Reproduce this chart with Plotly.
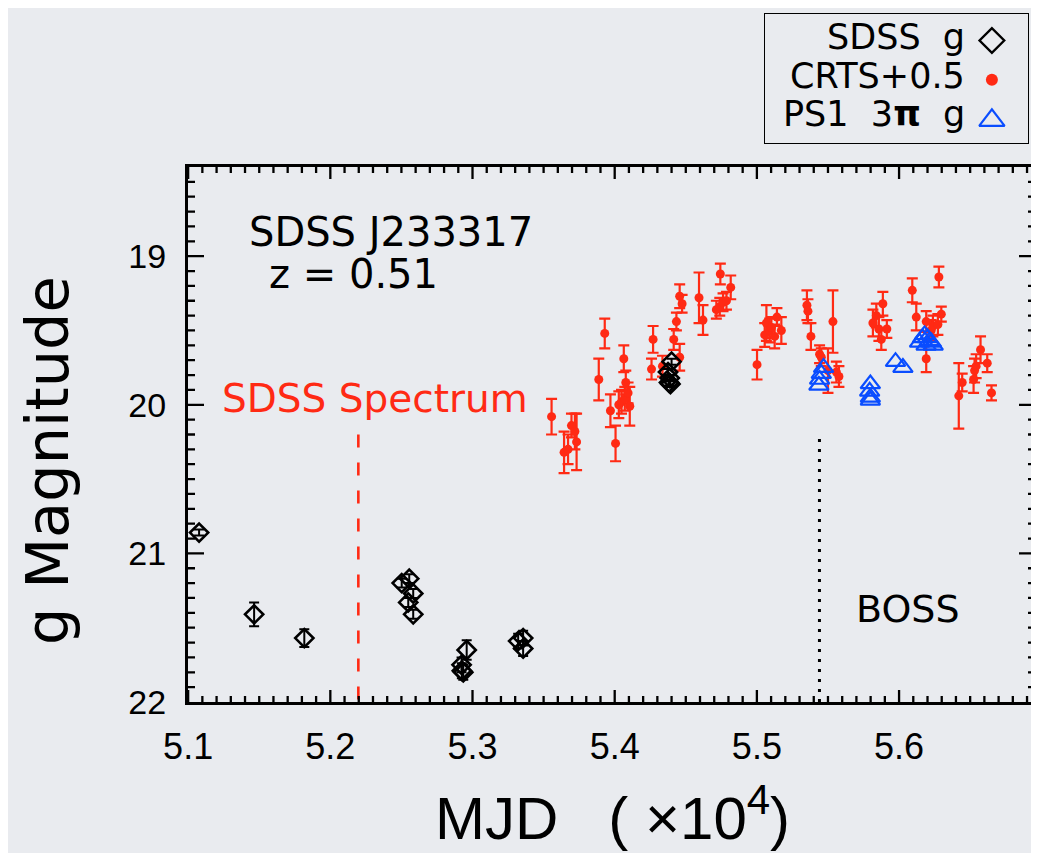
import plotly.graph_objects as go

# ---------------- data (MJD in units of 1e4, g magnitudes) ----------------
sdss_mjd = [5.1077, 5.1464, 5.1817, 5.2502, 5.2555, 5.2583, 5.2548, 5.2583,
            5.2959, 5.2923, 5.2925, 5.2935, 5.3321, 5.3356, 5.3356,
            5.4400, 5.4375, 5.4387, 5.4382, 5.4392]
sdss_mag = [20.86, 21.41, 21.57, 21.20, 21.17, 21.27, 21.33, 21.41,
            21.65, 21.75, 21.79, 21.80, 21.59, 21.57, 21.64,
            19.71, 19.78, 19.82, 19.85, 19.86]
sdss_err = [0.02, 0.08, 0.06, 0.03, 0.03, 0.03, 0.03, 0.03,
            0.065, 0.05, 0.05, 0.05, 0.05, 0.05, 0.05,
            0.02, 0.02, 0.02, 0.02, 0.02]

crts_offset = 0.5
crts_mjd = [5.3556, 5.3644, 5.3672, 5.3696, 5.3732, 5.3720, 5.3888, 5.3930,
            5.3970, 5.4006, 5.4029, 5.4048, 5.4071, 5.4064, 5.4078, 5.4094,
            5.4106, 5.4259, 5.4270, 5.4336, 5.4415, 5.4434, 5.4457, 5.4474,
            5.4457, 5.4593, 5.4621, 5.4715, 5.4739, 5.4743, 5.4762, 5.4786,
            5.4816, 5.5001, 5.5055, 5.5067, 5.5090, 5.5102, 5.5125, 5.5141,
            5.5172, 5.5352, 5.5359, 5.5380, 5.5441, 5.5453, 5.5500, 5.5535,
            5.5559, 5.5577, 5.5816, 5.5840, 5.5858, 5.5875, 5.5886, 5.5914,
            5.6093, 5.6121, 5.6191, 5.6191, 5.6226, 5.6238, 5.6273, 5.6280,
            5.6297, 5.6420, 5.6444, 5.6524, 5.6531, 5.6542, 5.6573, 5.6620,
            5.6650]
crts_mag = [19.58, 19.82, 19.80, 19.64, 19.75, 19.68, 19.33, 19.02,
            19.54, 19.76, 19.50, 19.48, 19.46, 19.19, 19.35, 19.42,
            19.51, 19.26, 19.06, 19.24, 19.06, 18.94, 18.77, 18.82,
            19.18, 18.78, 18.93, 18.86, 18.84, 18.62, 18.81, 18.80,
            18.71, 19.23, 19.03, 18.95, 19.00, 18.98, 19.04, 18.91,
            19.00, 18.83, 18.87, 19.04, 19.16, 19.18, 19.27, 18.94,
            19.28, 19.31, 18.95, 18.90, 18.99, 19.06, 18.82, 18.99,
            18.73, 18.91, 18.94, 19.19, 19.00, 18.97, 18.96, 18.64,
            18.89, 19.44, 19.35, 19.33, 19.27, 19.24, 19.13, 19.22,
            19.42]
crts_err = [0.12, 0.14, 0.10, 0.08, 0.19, 0.12, 0.14, 0.10,
            0.11, 0.12, 0.09, 0.08, 0.08, 0.09, 0.08, 0.07,
            0.13, 0.07, 0.09, 0.07, 0.07, 0.06, 0.08, 0.06,
            0.09, 0.17, 0.10, 0.06, 0.06, 0.07, 0.06, 0.06,
            0.08, 0.10, 0.08, 0.12, 0.08, 0.07, 0.08, 0.06,
            0.09, 0.10, 0.08, 0.09, 0.06, 0.06, 0.15, 0.21,
            0.07, 0.07, 0.09, 0.08, 0.08, 0.07, 0.08, 0.06,
            0.08, 0.09, 0.07, 0.09, 0.07, 0.07, 0.07, 0.07,
            0.05, 0.22, 0.06, 0.09, 0.08, 0.08, 0.09, 0.06,
            0.05]

ps1_mjd = [5.5469, 5.5453, 5.5441, 5.5436,
           5.5798, 5.5793, 5.5798, 5.5798,
           5.5975, 5.6027,
           5.6144, 5.6165, 5.6179, 5.6200, 5.6214, 5.6228, 5.6240, 5.6190]
ps1_mag = [19.75, 19.79, 19.83, 19.87,
           19.86, 19.91, 19.95, 19.97,
           19.71, 19.75,
           19.58, 19.55, 19.53, 19.55, 19.57, 19.58, 19.60, 19.60]

spectrum_mjd = 5.2197
boss_mjd = 5.5440
marker_line_top = [20.20, 20.23]   # where the vertical markers start

x_tick0, x_dtick, x_minor_per_major = 5.1, 0.1, 10
y_tick0, y_dtick, y_minor_per_major = 19, 1, 10
x_range = [5.0999, 5.6956]
y_range = [22.0, 18.4]

# ---------------- layout constants (screen pixels) ----------------
OFF = 8                      # page body margin of the html page
W, H = 1039 - OFF, 853 - OFF
PLOT_L, PLOT_R, PLOT_T, PLOT_B = 188, 1035, 167, 702
BOX_L, BOX_R, BOX_T, BOX_B = 764, 1029, 13, 144
BG = "#e9ebef"
RED = "#ff2a14"
BLUE = "#0a4dff"
TICKFONT = "Liberation Sans"
TEXTFONT = "DejaVu Sans"
XMAJ_LEN, XMIN_LEN = 12, 6     # tick lengths on the top/bottom axes (px)
YMAJ_LEN, YMIN_LEN = 16, 7     # tick lengths on the left/right axes (px)


def fx(p):
    return (p - OFF) / W


def fy(p):
    return 1 - (p - OFF) / H


fig = go.Figure()

crts_plot = [m + crts_offset for m in crts_mag]
fig.add_trace(go.Scatter(
    x=crts_mjd, y=crts_plot, mode="markers", name="CRTS+0.5",
    marker=dict(symbol="circle", size=9, color=RED),
    error_y=dict(type="data", array=crts_err, visible=True, color=RED,
                 thickness=2.2, width=5.5),
    showlegend=False))

fig.add_trace(go.Scatter(
    x=sdss_mjd, y=sdss_mag, mode="markers", name="SDSS g",
    marker=dict(symbol="diamond-open", size=14, color="black",
                line=dict(width=2.6, color="black")),
    error_y=dict(type="data", array=sdss_err, visible=True, color="black",
                 thickness=2, width=5),
    showlegend=False))

fig.add_trace(go.Scatter(
    x=ps1_mjd, y=ps1_mag, mode="markers", name="PS1 3π g",
    marker=dict(symbol="triangle-up-open", size=17, color=BLUE,
                line=dict(width=2.2, color=BLUE)),
    showlegend=False))

# vertical markers: SDSS spectrum and BOSS epochs
fig.add_trace(go.Scatter(
    x=[spectrum_mjd, spectrum_mjd], y=[marker_line_top[0], y_range[0]],
    mode="lines", line=dict(color=RED, width=2.6, dash="13px,15px"),
    showlegend=False, hoverinfo="skip"))
fig.add_trace(go.Scatter(
    x=[boss_mjd, boss_mjd], y=[marker_line_top[1], y_range[0]],
    mode="lines", line=dict(color="black", width=3, dash="3px,7px"),
    showlegend=False, hoverinfo="skip"))

# ---- inward tick marks on all four sides (IDL style), as one path in axis units ----
ppu_x = (PLOT_R - PLOT_L) / (x_range[1] - x_range[0])
ppu_y = (PLOT_B - PLOT_T) / (y_range[0] - y_range[1])
x_lo, x_hi = x_range
y_bot, y_top = y_range
segs = []
step_x = x_dtick / x_minor_per_major
i = 0
while True:
    xv = round(x_tick0 + i * step_x, 4)
    if xv > x_hi:
        break
    if xv > x_lo + 1e-6:
        ln = (XMAJ_LEN if i % x_minor_per_major == 0 else XMIN_LEN) / ppu_y
        segs.append(f"M{xv},{y_bot}L{xv},{y_bot - ln}")
        segs.append(f"M{xv},{y_top}L{xv},{y_top + ln}")
    i += 1
step_y = y_dtick / y_minor_per_major
j = -int(round((y_tick0 - y_top) / step_y))
while True:
    yv = round(y_tick0 + j * step_y, 4)
    if yv >= y_bot - 1e-6:
        break
    if yv > y_top + 1e-6:
        ln = (YMAJ_LEN if j % y_minor_per_major == 0 else YMIN_LEN) / ppu_x
        segs.append(f"M{x_lo},{yv}L{x_lo + ln},{yv}")
        segs.append(f"M{x_hi},{yv}L{x_hi - ln},{yv}")
    j += 1
fig.add_shape(type="path", xref="x", yref="y", path="".join(segs),
              line=dict(color="black", width=2.3), layer="above")

# legend box + key symbols on a small auxiliary subplot (unit coordinates)
fig.add_trace(go.Scatter(x=[0, 1, 1, 0, 0], y=[0, 0, 1, 1, 0], xaxis="x2", yaxis="y2",
                         mode="lines", line=dict(color="black", width=2),
                         cliponaxis=False, showlegend=False, hoverinfo="skip"))
leg_x = 0.86
leg_y = [0.79, 0.49, 0.18]
leg_styles = [
    dict(symbol="diamond-open", size=19, color="black", line=dict(width=2.4, color="black")),
    dict(symbol="circle", size=12, color=RED),
    dict(symbol="triangle-up-open", size=22, color=BLUE, line=dict(width=2.2, color=BLUE)),
]
for yv, st in zip(leg_y, leg_styles):
    fig.add_trace(go.Scatter(x=[leg_x], y=[yv], xaxis="x2", yaxis="y2", mode="markers",
                             marker=st, cliponaxis=False, showlegend=False,
                             hoverinfo="skip"))

axis_common = dict(
    showline=True, linewidth=3, linecolor="black", mirror=True,
    ticks="", showgrid=False, zeroline=False, automargin=False, tickmode="linear",
)
hidden_axis = dict(range=[0, 1], showline=False, showticklabels=False, ticks="",
                   showgrid=False, zeroline=False, fixedrange=True, automargin=False)

fig.update_layout(
    width=W, height=H,
    margin=dict(l=0, r=0, t=0, b=0),
    paper_bgcolor=BG, plot_bgcolor=BG,
    showlegend=False,
    xaxis=dict(
        domain=[fx(PLOT_L), fx(PLOT_R)], range=x_range,
        tick0=x_tick0, dtick=x_dtick, tickformat=".1f",
        tickfont=dict(family=TICKFONT, size=36, color="black"),
        ticklabelstandoff=11,
        **axis_common),
    yaxis=dict(
        domain=[fy(PLOT_B), fy(PLOT_T)], range=y_range,
        tick0=y_tick0, dtick=y_dtick,
        tickfont=dict(family=TICKFONT, size=34, color="black"),
        ticklabelstandoff=12,
        **axis_common),
    xaxis2=dict(domain=[fx(BOX_L), fx(BOX_R)], anchor="y2", **hidden_axis),
    yaxis2=dict(domain=[fy(BOX_B), fy(BOX_T)], anchor="x2", **hidden_axis),
)

ann = []
legend_labels = ["SDSS\u00a0\u00a0g", "CRTS+0.5", "PS1\u00a0\u00a03<b>π</b>\u00a0\u00a0g"]
legend_rows = [37, 76, 114]
for lab, row in zip(legend_labels, legend_rows):
    ann.append(dict(x=fx(967), y=fy(row), text=lab, xanchor="right",
                    font=dict(family=TEXTFONT, size=35, color="black")))

ann += [
    dict(x=fx(247), y=fy(232), text="SDSS J233317", xanchor="left",
         font=dict(family=TEXTFONT, size=40, color="black")),
    dict(x=fx(267), y=fy(274), text="z = 0.51", xanchor="left",
         font=dict(family=TEXTFONT, size=40, color="black")),
    dict(x=fx(220), y=fy(398), text="SDSS Spectrum", xanchor="left",
         font=dict(family=TEXTFONT, size=39, color=RED)),
    dict(x=fx(908), y=fy(609), text="BOSS", xanchor="center",
         font=dict(family=TEXTFONT, size=38, color="black")),
    dict(x=fx(612), y=fy(814), text="MJD\u00a0\u00a0\u00a0(\u00a0×10<sup>4</sup>)", xanchor="center",
         font=dict(family=TICKFONT, size=60, color="black")),
    dict(x=fx(47), y=fy(461), text="g Magnitude", xanchor="center", textangle=-90,
         font=dict(family=TEXTFONT, size=59, color="black")),
]
for a in ann:
    a.update(xref="paper", yref="paper", showarrow=False, yanchor="middle")
fig.update_layout(annotations=ann)

fig.write_html("out.html")
